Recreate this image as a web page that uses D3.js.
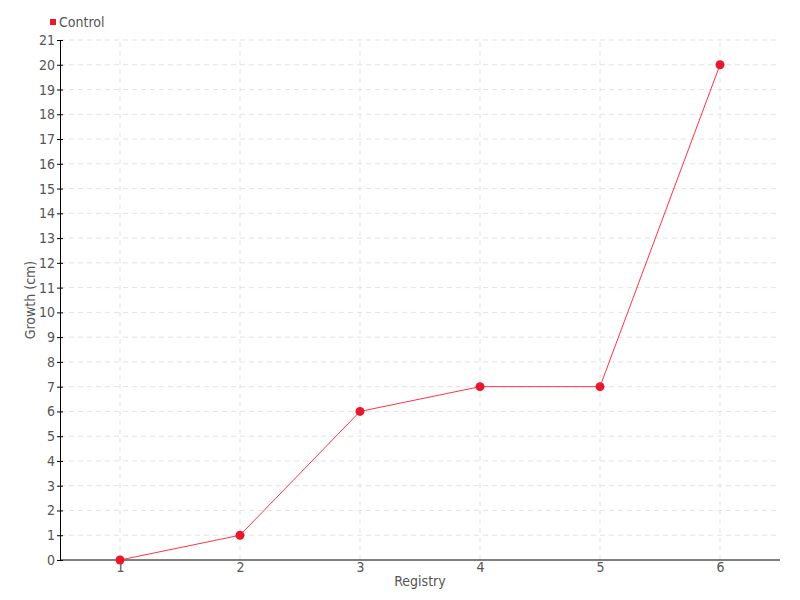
<!DOCTYPE html>
<html>
<head>
<meta charset="utf-8">
<script src="https://cdn.jsdelivr.net/npm/d3@7"></script>
<style>
  body { margin: 0; background: #fff; }
  text { font-family: "DejaVu Sans Condensed", "DejaVu Sans", sans-serif; fill: #555; }
</style>
</head>
<body>
<svg id="chart" width="800" height="600"></svg>
<script>
const categories = [1, 2, 3, 4, 5, 6];
const controlValues = [0, 1, 6, 7, 7, 20];
const yTicks = d3.range(0, 22);
const seriesName = "Control";
const xTitle = "Registry";
const yTitle = "Growth (cm)";

const svg = d3.select("#chart");
const margin = { left: 60, right: 20, top: 40, bottom: 40 };
const W = 800, H = 600;

const x = d3.scaleLinear().domain([0.5, 6.5]).range([margin.left, W - margin.right]);
const y = d3.scaleLinear().domain([0, 21]).range([H - margin.bottom, margin.top]);

// grid
const grid = svg.append("g");
grid.selectAll("line.h").data(yTicks.slice(1)).join("line")
  .attr("x1", margin.left).attr("x2", W - margin.right)
  .attr("y1", d => y(d)).attr("y2", d => y(d))
  .attr("stroke", "#e3e3e3").attr("stroke-dasharray", "5,4");
grid.selectAll("line.v").data(categories).join("line")
  .attr("y1", y(0)).attr("y2", y(21))
  .attr("x1", d => x(d)).attr("x2", d => x(d))
  .attr("stroke", "#e3e3e3").attr("stroke-dasharray", "5,4");

// y axis
const yAxis = svg.append("g").attr("transform", `translate(${margin.left},0)`)
  .call(d3.axisLeft(y).tickValues(yTicks).tickSize(3).tickFormat(d3.format("d")));
yAxis.select(".domain").attr("stroke", "#000");
yAxis.selectAll(".tick line").attr("stroke", "#000").attr("x2", 3).attr("x1", -3);
yAxis.selectAll(".tick text").attr("x", -5).style("font-size", "14px").attr("fill", "#555");

// x axis
const xAxis = svg.append("g").attr("transform", `translate(0,${y(0)})`)
  .call(d3.axisBottom(x).tickValues(categories).tickSize(0).tickPadding(2).tickFormat(d3.format("d")));
xAxis.select(".domain").attr("stroke", "#000").attr("d", `M${margin.left},0H${W - margin.right}`);
xAxis.selectAll(".tick text").style("font-size", "14px").attr("fill", "#555");

// line
const line = d3.line().x((d, i) => x(categories[i])).y(d => y(d));
svg.append("path").datum(controlValues)
  .attr("d", line).attr("fill", "none").attr("stroke", "#ff3344").attr("stroke-width", 1);
svg.selectAll("circle.pt").data(controlValues).join("circle")
  .attr("cx", (d, i) => x(categories[i])).attr("cy", d => y(d)).attr("r", 4.5)
  .attr("fill", "#e8192c");

// titles
svg.append("text").attr("x", (margin.left + W - margin.right) / 2).attr("y", 586)
  .attr("text-anchor", "middle").style("font-size", "14px").text(xTitle);
svg.append("text").attr("transform", `translate(35,${(y(0) + y(21)) / 2}) rotate(-90)`)
  .attr("text-anchor", "middle").style("font-size", "14px").text(yTitle);

// legend
svg.append("rect").attr("x", 50).attr("y", 19).attr("width", 6).attr("height", 6).attr("fill", "#e8192c");
svg.append("text").attr("x", 59).attr("y", 27).style("font-size", "14px").text(seriesName);
</script>
</body>
</html>
